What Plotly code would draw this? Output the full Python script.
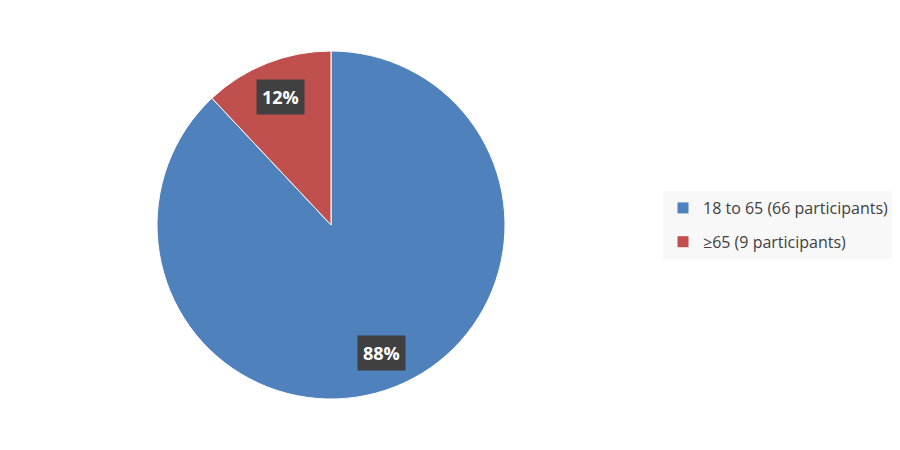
import math
import plotly.graph_objects as go

labels = ["18 to 65 (66 participants)", "≥65 (9 participants)"]
values = [66, 9]
colors = ["#4F81BD", "#C0504D"]

W, H = 900, 450
OFF = 8  # page body margin
cx, cy, R = 331 - OFF, 225 - OFF, 174
dom_x = [(cx - R) / W, (cx + R) / W]
dom_y = [(H - (cy + R)) / H, (H - (cy - R)) / H]

fig = go.Figure(go.Pie(
    labels=labels, values=values, sort=False, direction="clockwise", rotation=0,
    marker=dict(colors=colors, line=dict(color="white", width=1)),
    textinfo="none", hoverinfo="label+percent", showlegend=False,
    domain=dict(x=dom_x, y=dom_y),
))

for lab, col in zip(labels, colors):
    fig.add_trace(go.Scatter(
        x=[None], y=[None], mode="markers", name=lab, legendgroup=lab,
        marker=dict(symbol="square", size=11, color=col), showlegend=True,
    ))

total = sum(values)
cum = 0
annotations = []
for v in values:
    mid = (cum + v / 2) / total * 2 * math.pi
    cum += v
    rf = 0.79
    px = cx + rf * R * math.sin(mid)
    py = cy - rf * R * math.cos(mid)
    annotations.append(dict(
        x=px / W, y=1 - py / H, xref="paper", yref="paper",
        xanchor="center", yanchor="middle",
        text="<b>%d%%</b>" % round(v / total * 100), showarrow=False,
        font=dict(color="white", size=18, family="Open Sans"),
        bgcolor="#404040", borderpad=5,
    ))

fig.update_layout(
    width=W, height=H, margin=dict(l=0, r=0, t=0, b=0),
    paper_bgcolor="white", plot_bgcolor="white",
    xaxis=dict(visible=False), yaxis=dict(visible=False),
    showlegend=True,
    legend=dict(x=(663 - OFF) / W, y=1 - (225 - OFF) / H, xanchor="left", yanchor="middle",
                bgcolor="#F8F8F8", font=dict(family="Open Sans", size=16, color="#404040"),
                itemwidth=30, tracegroupgap=10),
    annotations=annotations,
)
fig.write_html("out.html")
